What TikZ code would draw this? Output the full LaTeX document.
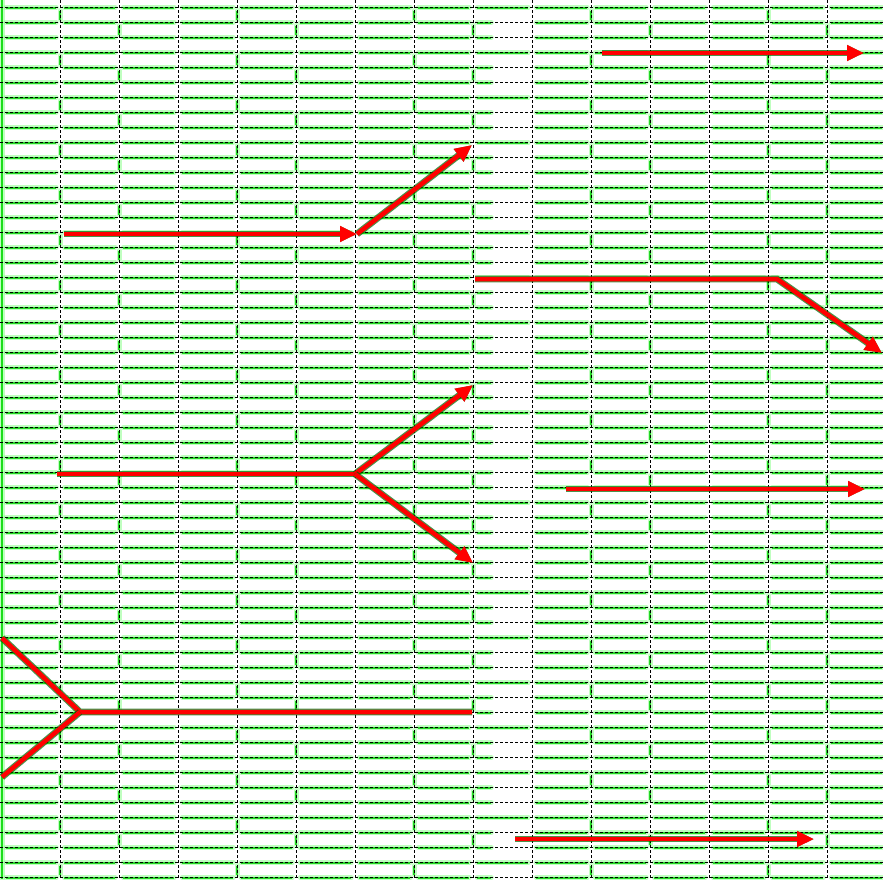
\documentclass[tikz,border=0pt]{standalone}
\usetikzlibrary{arrows.meta}
\begin{document}
\begin{tikzpicture}[x=1pt,y=-1pt,
  gridline/.style={black, line width=0.8pt, dash pattern=on 3pt off 2pt},
  glowwide/.style={green!70!white, line width=5pt, opacity=0.35, line cap=round},
  glowcore/.style={green!80!black, line width=2pt, opacity=0.8},
  arrowline/.style={red, line width=4.5pt, line join=miter,
     preaction={draw=green!40!black, line width=6.8pt, opacity=0.7}},
  tipped/.style={-{Triangle[length=17pt,width=15pt]}}]
\useasboundingbox (0,0) rectangle (883,879);
\fill[white] (0,0) rectangle (883,879);
\begin{scope}
\clip (0,0) rectangle (883,879);
% green glow under horizontal lines
\foreach \k in {0,...,58}{
  \pgfmathsetmacro\yy{7.5+15*\k}
  \foreach \c in {0,...,14}{
    \pgfmathsetmacro\xl{\c==0 ? 2 : 60.3+59*(\c-1)}
    \pgfmathsetmacro\xr{60.3+59*\c}
    \pgfmathtruncatemacro\sh{(\c==8)*(mod(\k,3)>0)}
    \ifnum\sh=1
      \pgfmathsetmacro\xr{\xl+22}
    \fi
    \draw[glowwide] (\xl+4,\yy) -- (\xr-4,\yy);
    \draw[glowcore] (\xl+4,\yy) -- (\xr-4,\yy);
  }
}
% green vertical ticks
\foreach \i in {0,...,13}{
  \pgfmathsetmacro\xx{60.3+59*\i}
  \foreach \k in {0,...,57}{
    \pgfmathtruncatemacro\r{mod(\i*13+\k*7+\i*\k,3)}
    \ifnum\r=0
      \pgfmathsetmacro\yy{7.5+15*\k}
      \draw[glowwide] (\xx,\yy+3) -- (\xx,\yy+12);
      \draw[glowcore] (\xx,\yy+3) -- (\xx,\yy+12);
    \fi
  }
}
\draw[green!80!black, line width=2pt] (2,0) -- (2,879);
\draw[glowwide] (2,0) -- (2,879);
% black dashed grid
\foreach \k in {0,...,58}{
  \draw[gridline] (0,7.5+15*\k) -- (883,7.5+15*\k);
}
\foreach \i in {0,...,13}{
  \draw[gridline] (60.3+59*\i,0) -- (60.3+59*\i,879);
}
% arrows
\coordinate (a1s) at (602,53);  \coordinate (a1e) at (864,53);
\coordinate (a2s) at (64,234);  \coordinate (a2m) at (357,234); \coordinate (a2e) at (472,145);
\coordinate (a3s) at (475,279); \coordinate (a3m) at (777,279); \coordinate (a3e) at (882,353);
\coordinate (a4s) at (57,474);  \coordinate (a4m) at (355,474);
\coordinate (a4u) at (473,385); \coordinate (a4d) at (473,563);
\coordinate (a5s) at (566,489); \coordinate (a5e) at (865,489);
\coordinate (a6s) at (472,712); \coordinate (a6m) at (80,712);
\coordinate (a6u) at (2,638);   \coordinate (a6d) at (2,777);
\coordinate (a7s) at (515,839); \coordinate (a7e) at (814,839);
\draw[arrowline,tipped] (a1s) -- (a1e);
\draw[arrowline,tipped] (a2s) -- (a2m);
\draw[arrowline,tipped] (a2m) -- (a2e);
\draw[arrowline,tipped] (a3s) -- (a3m) -- (a3e);
\draw[arrowline] (a4s) -- (a4m);
\draw[arrowline,tipped] (a4m) -- (a4u);
\draw[arrowline,tipped] (a4m) -- (a4d);
\draw[arrowline,tipped] (a5s) -- (a5e);
\draw[arrowline] (a6s) -- (a6m) -- (a6u);
\draw[arrowline] (a6m) -- (a6d);
\draw[arrowline,tipped] (a7s) -- (a7e);
\end{scope}
\end{tikzpicture}
\end{document}
